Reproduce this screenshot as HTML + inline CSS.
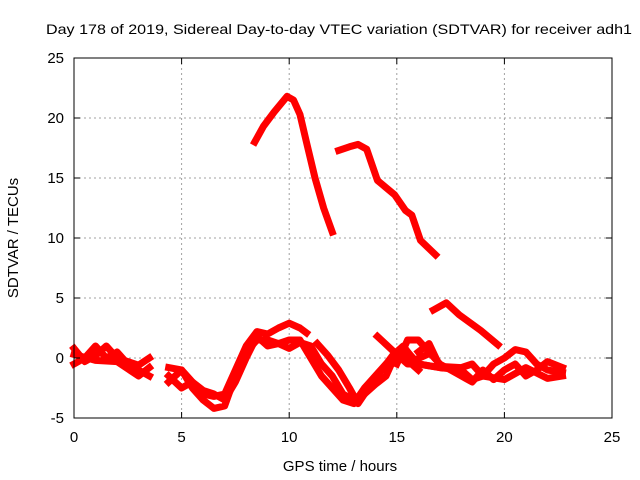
<!DOCTYPE html>
<html><head><meta charset="utf-8"><style>
body{margin:0;background:#fff}
svg{display:block;font-family:"Liberation Sans",sans-serif}
</style></head><body>
<svg id="chart" width="640" height="480">
<rect width="640" height="480" fill="#fff"/>
<text x="339" y="34" font-size="14" text-anchor="middle" textLength="586" lengthAdjust="spacingAndGlyphs">Day 178 of 2019, Sidereal Day-to-day VTEC variation (SDTVAR) for receiver adh1</text>
<text x="340" y="471" font-size="15" text-anchor="middle">GPS time / hours</text>
<text x="18" y="238" font-size="15" text-anchor="middle" transform="rotate(-90 18 238)">SDTVAR / TECUs</text>
<g id="grid"></g><g id="series"></g><g id="axes"></g>
</svg>
<script>
const xTicks=[0,5,10,15,20,25];
const yTicks=[-5,0,5,10,15,20,25];
const arc1=[[8.4,18],[8.8,19.3],[9.3,20.5],[9.9,21.8],[10.2,21.5],[10.5,20.3],[10.8,18],[11.2,15],[11.6,12.5],[12.0,10.5]];
const arc2=[[12.3,17.3],[12.8,17.6],[13.2,17.8],[13.6,17.4],[14.1,14.8],[14.9,13.6],[15.4,12.3],[15.7,11.9],[16.1,9.8],[16.8,8.6]];
const arc3=[[16.7,4],[17.3,4.6],[17.9,3.6],[18.9,2.3],[19.7,1.1]];
const a1=[[0,-0.5],[0.5,0],[1,1],[1.5,0],[2,0.5],[2.5,-0.5],[3,-1],[3.5,-1.5]];
const a2=[[0,0.8],[0.5,-0.3],[1,0.2],[1.5,1.0],[2,0],[2.5,-0.3],[3,-0.6],[3.5,0]];
const a3=[[0,0.3],[1,-0.2],[2,-0.3],[3,-1.5],[3.5,-0.8]];
const b1=[[4.4,-0.8],[5,-1],[5.5,-2],[6,-3],[6.5,-3.2],[7,-3],[7.5,-1],[8,1],[8.5,2.2],[9,2],[9.5,2.5],[10,2.9],[10.5,2.5],[10.8,2.1]];
const b2=[[4.4,-2],[5,-1],[5.5,-2.5],[6,-3.5],[6.5,-4.2],[7,-4],[7.5,-1.5],[8,0.5],[8.5,1.5],[9,1.5],[9.5,1.2],[10,1.5],[10.5,1.5],[11,0],[11.5,-1.5],[12,-2.5],[12.5,-3.5],[13,-3.8],[13.5,-2.5],[14,-1.5],[14.5,-0.5],[15,0.3],[15.5,0.5],[16,-0.5],[17,-0.8]];
const b3=[[4.4,-1.5],[5,-2.5],[5.5,-2],[6,-2.7],[6.5,-3],[7,-3.5],[7.5,-2],[8,0],[8.5,1.8],[9,1],[9.5,1.2],[10,0.8],[10.5,1.3],[11,1.0],[11.5,-0.5],[12,-1.5],[12.5,-3],[13,-3.5],[13.5,-3],[14,-2.2],[14.5,-1.5],[15,0.5],[15.5,-0.2],[16,-1.0]];
const b4=[[11.3,1.2],[11.8,0.2],[12.3,-1],[12.8,-2.5],[13.2,-3.8],[13.8,-2.2],[14.3,-1],[14.8,0.2],[15.3,1.0],[15.8,-0.2],[16.3,0.2]];
const c1=[[14.1,1.8],[15,0.3],[15.5,-0.5],[16,-0.5],[17,-0.8],[18,-1],[18.5,-1.8],[19,-1.5],[19.5,-0.5],[20,0],[20.5,0.7],[21,0.5],[21.5,-0.5],[22,-1],[22.7,-1.2]];
const c2=[[15,-0.5],[15.5,1.5],[16,1.5],[16.5,0.5],[17,-0.5],[17.5,-1],[18,-1.5],[18.5,-2],[19,-1],[19.5,-1.8],[20,-1],[20.5,-0.5],[21,-1.5],[21.5,-1],[22,-0.3],[22.7,-0.8]];
const c3=[[16,0.5],[16.5,1.2],[17,-0.7],[18,-0.8],[18.5,-0.5],[19,-1.5],[20,-1.8],[21,-0.8],[22,-1.7],[22.7,-1.5]];
const allSeries=[arc1,arc2,arc3,a1,a2,a3,b1,b2,b3,b4,c1,c2,c3];
const X0=74,X1=612,Y0=418,Y1=58;
const xs=h=>X0+(h-0)/(25-0)*(X1-X0);
const ys=v=>Y0-(v+5)/(30)*(Y0-Y1);
const NS="http://www.w3.org/2000/svg";
function mk(t,a,p){const e=document.createElementNS(NS,t);for(const k in a)e.setAttribute(k,a[k]);p.appendChild(e);return e;}
const grid=document.getElementById('grid'),axes=document.getElementById('axes'),ser=document.getElementById('series');
xTicks.forEach(t=>{const x=xs(t);
 if(t>0&&t<25){const g=mk('line',{x1:x,x2:x,y1:Y1,y2:Y0,stroke:'#a0a0a0','stroke-dasharray':'2,3'},grid);
 
 }
 mk('line',{x1:x,x2:x,y1:Y0,y2:Y0-6,stroke:'#000'},axes);
 mk('line',{x1:x,x2:x,y1:Y1,y2:Y1+6,stroke:'#000'},axes);
 const l=mk('text',{x:x,y:Y0+24,'font-size':15,'text-anchor':'middle'},axes);l.textContent=t;
 
 });
yTicks.forEach(t=>{const y=ys(t);
 if(t>-5&&t<25){const g=mk('line',{x1:X0,x2:X1,y1:y,y2:y,stroke:'#a0a0a0','stroke-dasharray':'2,3'},grid);
 
 }
 mk('line',{x1:X0,x2:X0+6,y1:y,y2:y,stroke:'#000'},axes);
 mk('line',{x1:X1,x2:X1-6,y1:y,y2:y,stroke:'#000'},axes);
 const l=mk('text',{x:X0-10,y:y+5,'font-size':15,'text-anchor':'end'},axes);l.textContent=t;
 
 });
const frame=mk('rect',{x:X0,y:Y1,width:X1-X0,height:Y0-Y1,fill:'none',stroke:'#000'},axes);


allSeries.forEach((s,i)=>{
 const p=mk('polyline',{points:s.map(d=>xs(d[0])+','+ys(d[1])).join(' '),fill:'none',stroke:'#f00','stroke-width':7,'stroke-linejoin':'round','stroke-linecap':'square'},ser);
 
 });
</script>
</body></html>
